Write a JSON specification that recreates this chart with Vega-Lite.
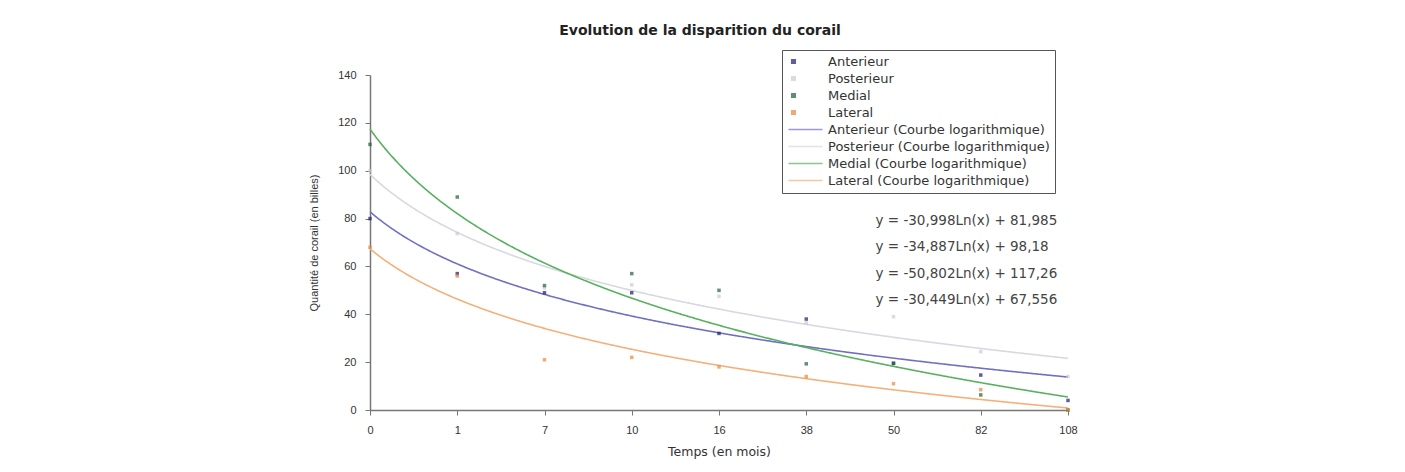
{
  "$schema": "https://vega.github.io/schema/vega-lite/v6.json",
  "width": 698,
  "height": 335,
  "autosize": {"type": "none"},
  "padding": {"left": 370, "top": 75, "right": 337, "bottom": 62},
  "background": "white",
  "config": {"view": {"stroke": null}, "font": "Liberation Sans"},
  "title": {"text": "Evolution de la disparition du corail", "fontSize": 14, "fontWeight": "bold", "font": "DejaVu Sans", "color": "#222", "offset": 12, "dx": -19, "anchor": "middle"},
  "data": {"values": [
    {"nom": "Anterieur", "courbe": "Anterieur (Courbe logarithmique)", "equation": "y = -30,998Ln(x) + 81,985", "idx": 1, "mois": "0", "y": 80},
    {"nom": "Anterieur", "courbe": "Anterieur (Courbe logarithmique)", "equation": "y = -30,998Ln(x) + 81,985", "idx": 2, "mois": "1", "y": 57},
    {"nom": "Anterieur", "courbe": "Anterieur (Courbe logarithmique)", "equation": "y = -30,998Ln(x) + 81,985", "idx": 3, "mois": "7", "y": 49},
    {"nom": "Anterieur", "courbe": "Anterieur (Courbe logarithmique)", "equation": "y = -30,998Ln(x) + 81,985", "idx": 4, "mois": "10", "y": 49},
    {"nom": "Anterieur", "courbe": "Anterieur (Courbe logarithmique)", "equation": "y = -30,998Ln(x) + 81,985", "idx": 5, "mois": "16", "y": 32},
    {"nom": "Anterieur", "courbe": "Anterieur (Courbe logarithmique)", "equation": "y = -30,998Ln(x) + 81,985", "idx": 6, "mois": "38", "y": 38},
    {"nom": "Anterieur", "courbe": "Anterieur (Courbe logarithmique)", "equation": "y = -30,998Ln(x) + 81,985", "idx": 7, "mois": "50", "y": 19.5},
    {"nom": "Anterieur", "courbe": "Anterieur (Courbe logarithmique)", "equation": "y = -30,998Ln(x) + 81,985", "idx": 8, "mois": "82", "y": 14.6},
    {"nom": "Anterieur", "courbe": "Anterieur (Courbe logarithmique)", "equation": "y = -30,998Ln(x) + 81,985", "idx": 9, "mois": "108", "y": 4},
    {"nom": "Posterieur", "courbe": "Posterieur (Courbe logarithmique)", "equation": "y = -34,887Ln(x) + 98,18", "idx": 1, "mois": "0", "y": 100},
    {"nom": "Posterieur", "courbe": "Posterieur (Courbe logarithmique)", "equation": "y = -34,887Ln(x) + 98,18", "idx": 2, "mois": "1", "y": 73.7},
    {"nom": "Posterieur", "courbe": "Posterieur (Courbe logarithmique)", "equation": "y = -34,887Ln(x) + 98,18", "idx": 3, "mois": "7", "y": 51},
    {"nom": "Posterieur", "courbe": "Posterieur (Courbe logarithmique)", "equation": "y = -34,887Ln(x) + 98,18", "idx": 4, "mois": "10", "y": 52.3},
    {"nom": "Posterieur", "courbe": "Posterieur (Courbe logarithmique)", "equation": "y = -34,887Ln(x) + 98,18", "idx": 5, "mois": "16", "y": 47.5},
    {"nom": "Posterieur", "courbe": "Posterieur (Courbe logarithmique)", "equation": "y = -34,887Ln(x) + 98,18", "idx": 6, "mois": "38", "y": 36.4},
    {"nom": "Posterieur", "courbe": "Posterieur (Courbe logarithmique)", "equation": "y = -34,887Ln(x) + 98,18", "idx": 7, "mois": "50", "y": 39},
    {"nom": "Posterieur", "courbe": "Posterieur (Courbe logarithmique)", "equation": "y = -34,887Ln(x) + 98,18", "idx": 8, "mois": "82", "y": 24.4},
    {"nom": "Posterieur", "courbe": "Posterieur (Courbe logarithmique)", "equation": "y = -34,887Ln(x) + 98,18", "idx": 9, "mois": "108", "y": 14},
    {"nom": "Medial", "courbe": "Medial (Courbe logarithmique)", "equation": "y = -50,802Ln(x) + 117,26", "idx": 1, "mois": "0", "y": 111},
    {"nom": "Medial", "courbe": "Medial (Courbe logarithmique)", "equation": "y = -50,802Ln(x) + 117,26", "idx": 2, "mois": "1", "y": 89},
    {"nom": "Medial", "courbe": "Medial (Courbe logarithmique)", "equation": "y = -50,802Ln(x) + 117,26", "idx": 3, "mois": "7", "y": 52},
    {"nom": "Medial", "courbe": "Medial (Courbe logarithmique)", "equation": "y = -50,802Ln(x) + 117,26", "idx": 4, "mois": "10", "y": 57},
    {"nom": "Medial", "courbe": "Medial (Courbe logarithmique)", "equation": "y = -50,802Ln(x) + 117,26", "idx": 5, "mois": "16", "y": 50},
    {"nom": "Medial", "courbe": "Medial (Courbe logarithmique)", "equation": "y = -50,802Ln(x) + 117,26", "idx": 6, "mois": "38", "y": 19.3},
    {"nom": "Medial", "courbe": "Medial (Courbe logarithmique)", "equation": "y = -50,802Ln(x) + 117,26", "idx": 7, "mois": "50", "y": 19.5},
    {"nom": "Medial", "courbe": "Medial (Courbe logarithmique)", "equation": "y = -50,802Ln(x) + 117,26", "idx": 8, "mois": "82", "y": 6.3},
    {"nom": "Medial", "courbe": "Medial (Courbe logarithmique)", "equation": "y = -50,802Ln(x) + 117,26", "idx": 9, "mois": "108", "y": 0},
    {"nom": "Lateral", "courbe": "Lateral (Courbe logarithmique)", "equation": "y = -30,449Ln(x) + 67,556", "idx": 1, "mois": "0", "y": 68},
    {"nom": "Lateral", "courbe": "Lateral (Courbe logarithmique)", "equation": "y = -30,449Ln(x) + 67,556", "idx": 2, "mois": "1", "y": 56},
    {"nom": "Lateral", "courbe": "Lateral (Courbe logarithmique)", "equation": "y = -30,449Ln(x) + 67,556", "idx": 3, "mois": "7", "y": 21},
    {"nom": "Lateral", "courbe": "Lateral (Courbe logarithmique)", "equation": "y = -30,449Ln(x) + 67,556", "idx": 4, "mois": "10", "y": 22},
    {"nom": "Lateral", "courbe": "Lateral (Courbe logarithmique)", "equation": "y = -30,449Ln(x) + 67,556", "idx": 5, "mois": "16", "y": 18},
    {"nom": "Lateral", "courbe": "Lateral (Courbe logarithmique)", "equation": "y = -30,449Ln(x) + 67,556", "idx": 6, "mois": "38", "y": 14},
    {"nom": "Lateral", "courbe": "Lateral (Courbe logarithmique)", "equation": "y = -30,449Ln(x) + 67,556", "idx": 7, "mois": "50", "y": 11},
    {"nom": "Lateral", "courbe": "Lateral (Courbe logarithmique)", "equation": "y = -30,449Ln(x) + 67,556", "idx": 8, "mois": "82", "y": 8.5},
    {"nom": "Lateral", "courbe": "Lateral (Courbe logarithmique)", "equation": "y = -30,449Ln(x) + 67,556", "idx": 9, "mois": "108", "y": 0}
  ]},
  "layer": [
    {
      "transform": [{"regression": "y", "on": "idx", "method": "log", "groupby": ["courbe", "equation"]}],
      "mark": {"type": "line", "strokeWidth": 1.6},
      "encoding": {
        "x": {"field": "idx", "type": "quantitative",
          "scale": {"domain": [1, 9], "nice": false, "zero": false},
          "axis": {"values": [1, 2, 3, 4, 5, 6, 7, 8, 9], "labelExpr": "['0','1','7','10','16','38','50','82','108'][datum.value-1]",
            "title": "Temps (en mois)", "titleFont": "DejaVu Sans", "titleFontSize": 12.5, "titleFontWeight": "normal", "titleColor": "#333", "titlePadding": 10,
            "labelFontSize": 11, "labelColor": "#333", "labelPadding": 9, "labelFlush": false,
            "domainColor": "#777", "domainWidth": 1.5, "tickColor": "#777", "tickSize": 5, "grid": false}},
        "y": {"field": "y", "type": "quantitative",
          "scale": {"domain": [0, 140], "nice": false},
          "axis": {"values": [0, 20, 40, 60, 80, 100, 120, 140],
            "title": "Quantité de corail (en billes)", "titleFontSize": 11, "titleFontWeight": "normal", "titleColor": "#333", "titlePadding": 18,
            "labelFontSize": 11, "labelColor": "#333", "labelPadding": 9,
            "domainColor": "#777", "domainWidth": 1.5, "tickColor": "#777", "tickSize": 5, "grid": false}},
        "color": {"field": "courbe", "type": "nominal",
          "scale": {
            "domain": ["Anterieur", "Posterieur", "Medial", "Lateral", "Anterieur (Courbe logarithmique)", "Posterieur (Courbe logarithmique)", "Medial (Courbe logarithmique)", "Lateral (Courbe logarithmique)"],
            "range": ["#1c1c6e", "#cfc8d8", "#1f5f3a", "#e8873a", "#7070c0", "#d8d8e2", "#58b060", "#f4b07a"]},
          "legend": {"title": null, "orient": "none", "legendX": 412, "legendY": -25,
            "strokeColor": "#555", "fillColor": "white", "padding": 5,
            "labelFont": "DejaVu Sans", "labelFontSize": 13, "labelColor": "#333", "labelLimit": 400,
            "rowPadding": 3, "labelOffset": 28, "symbolStrokeWidth": 1.6, "symbolSize": 100}},
        "strokeDash": {"field": "equation", "type": "nominal",
          "scale": {"domain": ["y = -30,998Ln(x) + 81,985", "y = -34,887Ln(x) + 98,18", "y = -50,802Ln(x) + 117,26", "y = -30,449Ln(x) + 67,556"],
            "range": [[1, 0], [1, 0], [1, 0], [1, 0]]},
          "legend": {"title": null, "orient": "none", "legendX": 492, "legendY": 139,
            "symbolSize": 1, "symbolOpacity": 0, "labelOffset": 0, "padding": 0,
            "labelFont": "DejaVu Sans", "labelFontSize": 13.5, "labelColor": "#444", "labelLimit": 400, "rowPadding": 11.5}}
      }
    },
    {
      "mark": {"type": "point", "filled": true, "size": 100},
      "encoding": {
        "x": {"field": "idx", "type": "quantitative"},
        "y": {"field": "y", "type": "quantitative"},
        "color": {"field": "nom", "type": "nominal",
          "legend": {"title": null, "orient": "none", "legendX": 412, "legendY": -25,
            "strokeColor": "#555", "fillColor": "white", "padding": 5,
            "labelFont": "DejaVu Sans", "labelFontSize": 13, "labelColor": "#333", "labelLimit": 400,
            "rowPadding": 3, "labelOffset": 28, "symbolStrokeWidth": 1.6, "symbolSize": 100}},
        "shape": {"field": "nom", "type": "nominal",
          "scale": {
            "domain": ["Anterieur", "Posterieur", "Medial", "Lateral", "Anterieur (Courbe logarithmique)", "Posterieur (Courbe logarithmique)", "Medial (Courbe logarithmique)", "Lateral (Courbe logarithmique)"],
            "range": ["M-0.35,-0.35H0.35V0.35H-0.35Z", "M-0.35,-0.35H0.35V0.35H-0.35Z", "M-0.35,-0.35H0.35V0.35H-0.35Z", "M-0.35,-0.35H0.35V0.35H-0.35Z", "M-1,0H5.8", "M-1,0H5.8", "M-1,0H5.8", "M-1,0H5.8"]},
          "legend": {"title": null, "orient": "none", "legendX": 412, "legendY": -25, "symbolSize": 100}}
      }
    }
  ]
}
